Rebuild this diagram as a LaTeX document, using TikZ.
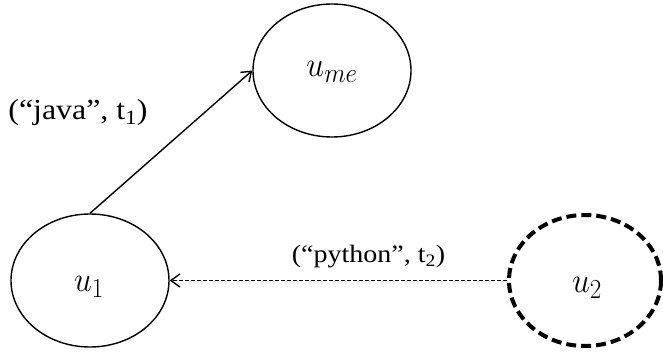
\documentclass[tikz,border=0pt]{standalone}
\usepackage{fix-cm}
\usepackage[no-math]{fontspec}
\setmainfont{Liberation Serif}
\DeclareMathSizes{32}{32}{25}{20}
\usetikzlibrary{shapes.geometric,arrows.meta}
\tikzset{
  usernode/.style={ellipse,draw,line width=1.4pt,inner sep=0pt,minimum width=158pt,minimum height=133pt},
  dashnode/.style={ellipse,draw,line width=4pt,dash pattern=on 10pt off 5pt,inner sep=0pt,minimum width=152pt,minimum height=131pt},
  tip/.style={-{Straight Barb[length=9pt,width=13pt,line width=1.4pt]}},
  mathlab/.style={font=\fontsize{32}{34}\selectfont},
  edgelab/.style={inner sep=0pt}
}
\begin{document}
\begin{tikzpicture}[x=1pt,y=-1pt]
\useasboundingbox (0,0) rectangle (663,356);
\node[usernode] (ume) at (332,70.5) {};
\node[usernode] (u1) at (90,280.5) {};
\node[dashnode] (u2) at (585,280.5) {};
\node[mathlab] (ume-l) at (332,72) {\scalebox{1.0}[1.1]{$u_{me}$}};
\node[mathlab] (u1-l) at (89,287) {\scalebox{1.0}[1.1]{$u_1$}};
\node[mathlab] (u2-l) at (587,288) {\scalebox{1.0}[1.1]{$u_2$}};
\draw[tip,line width=1.4pt] (u1.north) -- (ume.west);
\draw[tip,line width=1.3pt,dash pattern=on 4pt off 2pt] (u2.west) -- (u1.east);
\node[edgelab,font=\fontsize{29}{30}\selectfont] (java) at (78,113) {\scalebox{1.1}[1]{(“java”, t\textsubscript{1})}};
\node[edgelab,font=\fontsize{25}{27}\selectfont] (python) at (368.5,257) {\scalebox{1.12}[1]{(“python”, t\textsubscript{2})}};
\end{tikzpicture}
\end{document}
